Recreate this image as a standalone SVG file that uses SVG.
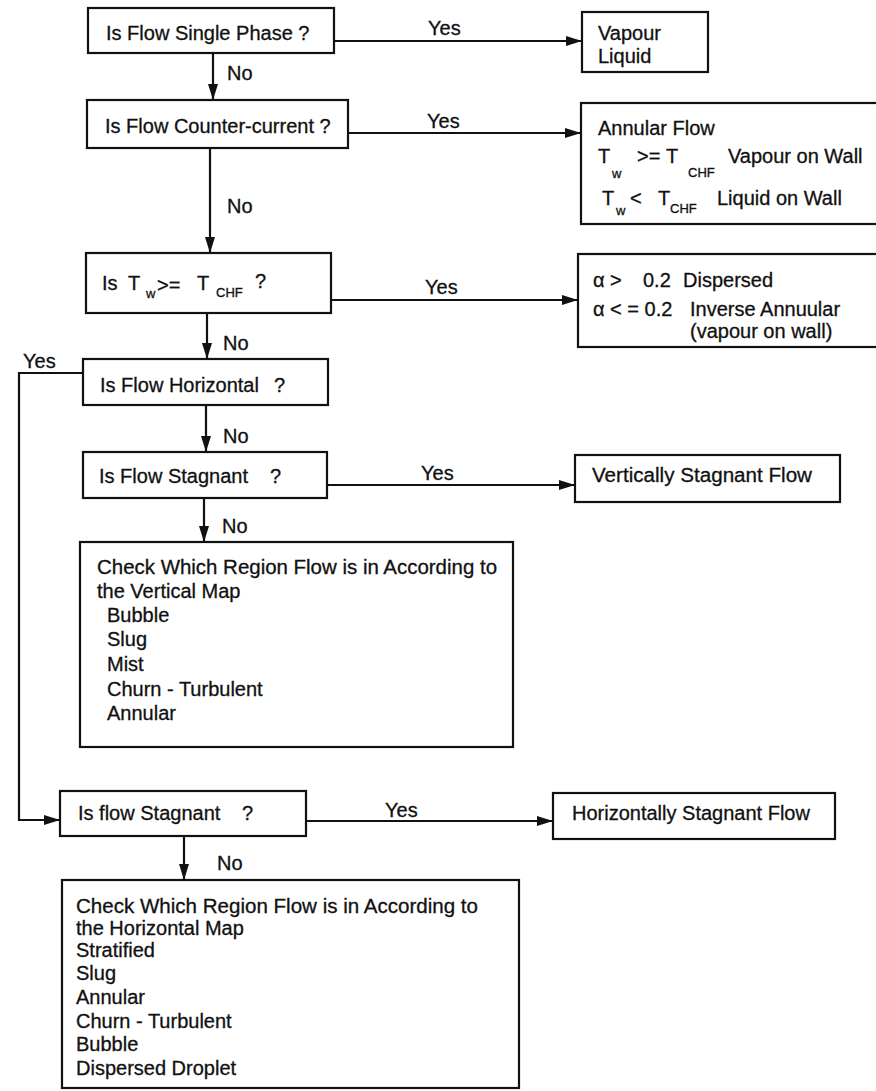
<svg xmlns="http://www.w3.org/2000/svg" width="876" height="1091" viewBox="0 0 876 1091">
<style>
text{font-family:"Liberation Sans",Arial,sans-serif;font-size:20px;fill:#111;stroke:#111;stroke-width:0.3}
.sub{font-size:13px}
.box{fill:#fff;stroke:#111;stroke-width:2.2}
.con{fill:none;stroke:#111;stroke-width:2.2}
</style>
<defs>
<marker id="ah" markerUnits="userSpaceOnUse" markerWidth="16" markerHeight="10" refX="15" refY="5" orient="auto">
<path d="M0,0 L16,5 L0,10 z" fill="#111"/>
</marker>
</defs>
<rect width="876" height="1091" fill="#fff"/>
<g id="connectors">
<path class="con" d="M334,41 H581" marker-end="url(#ah)"/>
<path class="con" d="M348,133 H580" marker-end="url(#ah)"/>
<path class="con" d="M331,300 H577" marker-end="url(#ah)"/>
<path class="con" d="M327,485 H574" marker-end="url(#ah)"/>
<path class="con" d="M306,821 H552" marker-end="url(#ah)"/>
<path class="con" d="M83,373 H19 V820 H59" marker-end="url(#ah)"/>
<path class="con" d="M213,53 V99" marker-end="url(#ah)"/>
<path class="con" d="M210,148 V252" marker-end="url(#ah)"/>
<path class="con" d="M207,313 V358" marker-end="url(#ah)"/>
<path class="con" d="M206,405 V451" marker-end="url(#ah)"/>
<path class="con" d="M204,498 V541" marker-end="url(#ah)"/>
<path class="con" d="M184,836 V879" marker-end="url(#ah)"/>
<text x="428" y="35">Yes</text>
<text x="427" y="128">Yes</text>
<text x="425" y="294">Yes</text>
<text x="421" y="480">Yes</text>
<text x="385" y="817">Yes</text>
<text x="23" y="368">Yes</text>
<text x="227" y="80">No</text>
<text x="227" y="213">No</text>
<text x="223" y="350">No</text>
<text x="223" y="443">No</text>
<text x="222" y="533">No</text>
<text x="217" y="870">No</text>
</g>
<g id="n1">
<rect class="box" x="88" y="8" width="246" height="45"/>
<text x="106" y="40">Is Flow Single Phase ?</text>
</g>
<g id="n2">
<rect class="box" x="582" y="12" width="126" height="60"/>
<text x="598" y="40">Vapour</text>
<text x="598" y="63">Liquid</text>
</g>
<g id="n3">
<rect class="box" x="87" y="100" width="261" height="48"/>
<text x="105" y="133">Is Flow Counter-current ?</text>
</g>
<g id="n4">
<rect class="box" x="581" y="103" width="300" height="121"/>
<text x="598" y="135">Annular Flow</text>
<text x="598" y="163">T</text>
<text class="sub" x="612" y="178">w</text>
<text x="637" y="163">&gt;=</text>
<text x="666" y="163">T</text>
<text class="sub" x="688" y="177">CHF</text>
<text x="728" y="163">Vapour on Wall</text>
<text x="602" y="205">T</text>
<text class="sub" x="616" y="215">w</text>
<text x="630" y="205">&lt;</text>
<text x="658" y="205">T</text>
<text class="sub" x="670" y="213">CHF</text>
<text x="717" y="205">Liquid on Wall</text>
</g>
<g id="n5">
<rect class="box" x="86" y="253" width="245" height="60"/>
<text x="102" y="290">Is</text>
<text x="128" y="290">T</text>
<text class="sub" x="146" y="298">w</text>
<text x="157" y="292">&gt;=</text>
<text x="197" y="290">T</text>
<text class="sub" x="216" y="297">CHF</text>
<text x="255" y="288">?</text>
</g>
<g id="n6">
<rect class="box" x="578" y="254" width="302" height="93"/>
<text x="593" y="287">α &gt;</text>
<text x="643" y="287">0.2</text>
<text x="683" y="287">Dispersed</text>
<text x="593" y="316">α &lt; = 0.2</text>
<text x="690" y="316">Inverse Annuular</text>
<text x="690" y="338">(vapour on wall)</text>
</g>
<g id="n7">
<rect class="box" x="83" y="359" width="245" height="46"/>
<text x="100" y="392">Is Flow Horizontal</text>
<text x="274" y="392">?</text>
</g>
<g id="n8">
<rect class="box" x="83" y="452" width="244" height="46"/>
<text x="99" y="483">Is Flow Stagnant</text>
<text x="270" y="483">?</text>
</g>
<g id="n9">
<rect class="box" x="575" y="455" width="265" height="47"/>
<text x="592" y="482" textLength="220" lengthAdjust="spacingAndGlyphs">Vertically Stagnant Flow</text>
</g>
<g id="n10">
<rect class="box" x="80" y="542" width="433" height="205"/>
<text x="97" y="574" textLength="400" lengthAdjust="spacingAndGlyphs">Check Which Region Flow is in According to</text>
<text x="97" y="598">the Vertical Map</text>
<text x="107" y="622">Bubble</text>
<text x="107" y="646">Slug</text>
<text x="107" y="671">Mist</text>
<text x="107" y="696">Churn - Turbulent</text>
<text x="107" y="720">Annular</text>
</g>
<g id="n11">
<rect class="box" x="60" y="791" width="246" height="45"/>
<text x="78" y="820">Is flow Stagnant</text>
<text x="242" y="820">?</text>
</g>
<g id="n12">
<rect class="box" x="553" y="793" width="282" height="46"/>
<text x="572" y="820">Horizontally Stagnant Flow</text>
</g>
<g id="n13">
<rect class="box" x="62" y="880" width="457" height="208"/>
<text x="76" y="913" textLength="402" lengthAdjust="spacingAndGlyphs">Check Which Region Flow is in According to</text>
<text x="76" y="935">the Horizontal Map</text>
<text x="76" y="957">Stratified</text>
<text x="76" y="980">Slug</text>
<text x="76" y="1004">Annular</text>
<text x="76" y="1028">Churn - Turbulent</text>
<text x="76" y="1051">Bubble</text>
<text x="76" y="1075">Dispersed Droplet</text>
</g>
</svg>
